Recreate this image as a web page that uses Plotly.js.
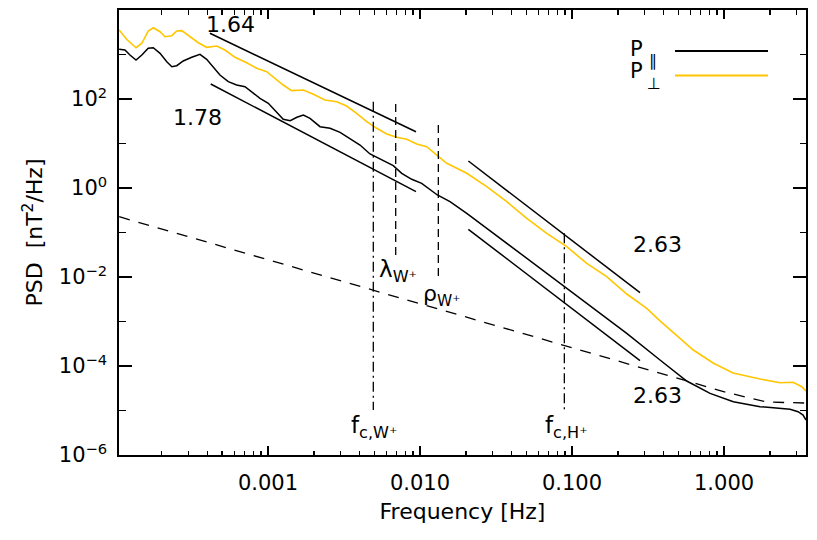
<!DOCTYPE html>
<html>
<head>
<meta charset="utf-8">
<script src="https://cdn.plot.ly/plotly-3.0.1.min.js"></script>
<style>html,body{margin:0;padding:0;background:#fff}#chart{width:817px;height:540px}</style>
</head>
<body>
<div id="chart"></div>
<script>
// ---------- data ----------
const freqPerp = [1.05e-4,1.175e-4,1.355e-4,1.48e-4,1.63e-4,1.76e-4,1.95e-4,2.10e-4,2.33e-4,2.51e-4,2.71e-4,3.07e-4,3.48e-4,3.95e-4,4.60e-4,5.21e-4,6.07e-4,7.24e-4,8.43e-4,9.80e-4,1.11e-3,1.26e-3,1.43e-3,1.71e-3,1.99e-3,2.37e-3,2.83e-3,3.29e-3,3.83e-3,4.46e-3,5.19e-3,6.04e-3,7.03e-3,8.18e-3,9.51e-3,1.107e-2,1.29e-2,1.50e-2,2.03e-2,2.75e-2,3.72e-2,5.04e-2,6.82e-2,9.23e-2,0.125,0.169,0.229,0.310,0.379,0.628,0.847,1.146,1.725,2.336,2.844,3.245,3.46];
const psdPerp = [3560,2200,1420,1790,3370,4000,3250,2510,2650,3370,3430,2510,1840,1450,1550,1260,865,655,490,411,292,206,154,159,128,95.0,87.0,69.6,47.7,30.9,21.96,16.35,13.78,12.43,9.74,8.48,5.51,3.59,2.14,1.07,0.492,0.208,0.0959,0.048,0.0203,0.0102,4.15e-3,1.98e-3,1.03e-3,2.29e-4,1.17e-4,6.96e-5,5.10e-5,4.21e-5,4.30e-5,3.43e-5,2.7e-5];

const freqPar = [1.05e-4,1.146e-4,1.236e-4,1.355e-4,1.48e-4,1.63e-4,1.76e-4,1.95e-4,2.16e-4,2.33e-4,2.51e-4,2.77e-4,3.15e-4,3.57e-4,3.95e-4,4.37e-4,4.83e-4,5.48e-4,6.22e-4,7.06e-4,7.81e-4,8.86e-4,1.005e-3,1.14e-3,1.26e-3,1.40e-3,1.55e-3,1.71e-3,1.89e-3,2.20e-3,2.56e-3,2.98e-3,3.46e-3,4.03e-3,4.69e-3,5.46e-3,6.67e-3,7.58e-3,8.82e-3,1.026e-2,1.16e-2,1.30e-2,1.575e-2,2.03e-2,2.75e-2,3.72e-2,5.04e-2,6.82e-2,9.23e-2,0.1313,0.229,0.379,0.568,0.809,1.151,1.725,2.718,3.068,3.31,3.46];
const psdPar = [1309,1260,974,752,974,1378,1422,1064,689,532,560,714,865,1010,780,532,346,245,206,189,146,103.7,80.1,51.8,35.0,32.5,38.8,43.7,36.8,23.85,21.96,17.85,13.09,9.25,5.81,4.41,3.17,2.14,1.569,1.275,0.935,0.697,0.492,0.270,0.1243,0.0572,0.0263,0.01211,5.5e-3,2.23e-3,5.43e-4,1.364e-4,4.60e-5,2.43e-5,1.58e-5,1.217e-5,1.064e-5,9.4e-6,7.92e-6,6.11e-6];

const noiseFreq = [1.05e-4,2.13e-2,0.568,1.042,1.91,3.46];
const noisePsd  = [0.2265,1.18e-3,4.6e-5,2.54e-5,1.55e-5,1.47e-5];

const fit164Freq = [4.15e-4,9.41e-3];  const fit164Psd = [2995,18.4];
const fit178Freq = [4.20e-4,9.41e-3];  const fit178Psd = [217.3,0.826];
const fit263aFreq = [2.08e-2,0.280];   const fit263aPsd = [4.04,4.44e-3];
const fit263bFreq = [2.08e-2,0.280];   const fit263bPsd = [0.118,1.315e-4];

const fcWFreq = 4.93e-3;     const fcWSpan = [87,1.03e-5];
const lambdaWFreq = 6.92e-3; const lambdaWSpan = [77.2,0.0312];
const rhoWFreq = 1.32e-2;    const rhoWSpan = [26.0,0.0102];
const fcHFreq = 8.9e-2;      const fcHSpan = [0.0959,1.03e-5];

const xTickVals = [0.001,0.01,0.1,1];
const xTickText = ['0.001','0.010','0.100','1.000'];
const yTickVals = [1e-6,1e-4,1e-2,1,1e2,1e4];
const yTickText = ['10<sup>\u22126</sup>','10<sup>\u22124</sup>','10<sup>\u22122</sup>','10<sup>0</sup>','10<sup>2</sup>','10<sup>4</sup>'];
const yMinorVals = [1e-5,1e-3,1e-1,1e1,1e3];

// ---------- styling / layout ----------
const FONT = 'DejaVu Sans';
const YEL = 'rgb(255,198,0)';
const xMinorVals = [];
for (let k=-4;k<=0;k++) for (let m=2;m<=9;m++) xMinorVals.push(m*Math.pow(10,k));
const XR = [-3.98,0.539], YR = [-6,4];

function line(x,y,color,dash,w){return {x:x,y:y,type:'scatter',mode:'lines',line:{color:color,width:w||1.5,dash:dash||'solid'},hoverinfo:'skip',showlegend:false};}
// invisible anchor traces so that the tick-only overlay axes (minor / mirrored ticks) get drawn
function dummy(xa,ya){return {x:[freqPar[0]],y:[psdPar[0]],type:'scatter',mode:'markers',marker:{opacity:0,size:1},xaxis:xa,yaxis:ya,hoverinfo:'skip',showlegend:false};}

const traces = [
  line(noiseFreq,noisePsd,'#000','11px,9px',1.3),
  line(freqPerp,psdPerp,YEL,'solid',1.6),
  line(freqPar,psdPar,'#000','solid',1.5),
  line(fit164Freq,fit164Psd,'#000'),
  line(fit178Freq,fit178Psd,'#000'),
  line(fit263aFreq,fit263aPsd,'#000'),
  line(fit263bFreq,fit263bPsd,'#000'),
  line([fcWFreq,fcWFreq],fcWSpan,'#000','10px,4px,2px,4px',1.3),
  line([lambdaWFreq,lambdaWFreq],lambdaWSpan,'#000','8px,5px',1.3),
  line([rhoWFreq,rhoWFreq],rhoWSpan,'#000','8px,5px',1.3),
  line([fcHFreq,fcHFreq],fcHSpan,'#000','10px,4px,2px,4px',1.3),
  dummy('x2','y'),dummy('x3','y'),dummy('x4','y'),
  dummy('x','y2'),dummy('x','y3'),dummy('x','y4')
];

const L=119,T=10,W=687,H=445;
const px = v => (v-L)/W;
const py = v => 1-(v-T)/H;
function lab(text,x,y,size,xa){return {text:text,xref:'paper',yref:'paper',x:px(x),y:py(y),xanchor:xa||'center',yanchor:'middle',showarrow:false,font:{family:FONT,size:size||22,color:'#000'}};}

const annotations = [
  lab('1.64',230,25),
  lab('1.78',197,117),
  lab('2.63',657,245),
  lab('2.63',657,395),
  lab('\u03bb<sub>W\u207a</sub>',398,271,23),
  lab('\u03c1<sub>W\u207a</sub>',441,295,22),
  lab('f<sub>c,W\u207a</sub>',374,427,23),
  lab('f<sub>c,H\u207a</sub>',566,427,23),
  lab('P',636,49,21),
  lab('\u2225',653,60,16),
  lab('P',636,71,21),
  lab('\u22a5',654,83,16)
];

const shapes = [
  {type:'line',xref:'paper',yref:'paper',x0:px(675),x1:px(768),y0:py(51),y1:py(51),line:{color:'#000',width:2.2}},
  {type:'line',xref:'paper',yref:'paper',x0:px(675),x1:px(768),y0:py(75.5),y1:py(75.5),line:{color:YEL,width:2.2}}
];

const TW = 1.5;
function tickAx(extra){return Object.assign({type:'log',tickmode:'array',ticks:'inside',tickcolor:'#000',tickwidth:TW,showticklabels:false,showgrid:false,zeroline:false},extra);}

const layout = {
  width:817,height:540,
  margin:{l:L,r:817-L-W,t:T,b:540-T-H,pad:0},
  paper_bgcolor:'#fff',plot_bgcolor:'#fff',
  showlegend:false,
  font:{family:FONT,color:'#000'},
  xaxis:{type:'log',range:XR,tickmode:'array',tickvals:xTickVals,ticktext:xTickText,ticks:'inside',ticklen:9,tickwidth:TW,tickcolor:'#000',
    showgrid:false,zeroline:false,showline:true,linecolor:'#000',linewidth:1.6,mirror:true,ticklabelstandoff:8,
    tickfont:{family:FONT,size:21,color:'#000'},
    title:{text:'Frequency [Hz]',font:{family:FONT,size:22,color:'#000'},standoff:10}},
  xaxis2:tickAx({range:XR,overlaying:'x',side:'bottom',anchor:'y',tickvals:xMinorVals,ticklen:4.5}),
  xaxis3:tickAx({range:XR,overlaying:'x',side:'top',anchor:'y',tickvals:xTickVals,ticklen:9}),
  xaxis4:tickAx({range:XR,overlaying:'x',side:'top',anchor:'y',tickvals:xMinorVals,ticklen:4.5}),
  yaxis:{type:'log',range:YR,tickmode:'array',tickvals:yTickVals,ticktext:yTickText,ticks:'inside',ticklen:13,tickwidth:TW,tickcolor:'#000',
    showgrid:false,zeroline:false,showline:true,linecolor:'#000',linewidth:1.6,mirror:true,ticklabelstandoff:6,
    tickfont:{family:FONT,size:21,color:'#000'},
    title:{text:'PSD\u00a0\u00a0[nT<sup>2</sup>/Hz]',font:{family:FONT,size:22,color:'#000'},standoff:10}},
  yaxis2:tickAx({range:YR,overlaying:'y',side:'left',anchor:'x',tickvals:yMinorVals,ticklen:6.5}),
  yaxis3:tickAx({range:YR,overlaying:'y',side:'right',anchor:'x',tickvals:yTickVals,ticklen:13}),
  yaxis4:tickAx({range:YR,overlaying:'y',side:'right',anchor:'x',tickvals:yMinorVals,ticklen:6.5}),
  annotations:annotations,
  shapes:shapes
};

Plotly.newPlot('chart',traces,layout,{staticPlot:true,displayModeBar:false});
</script>
</body>
</html>
